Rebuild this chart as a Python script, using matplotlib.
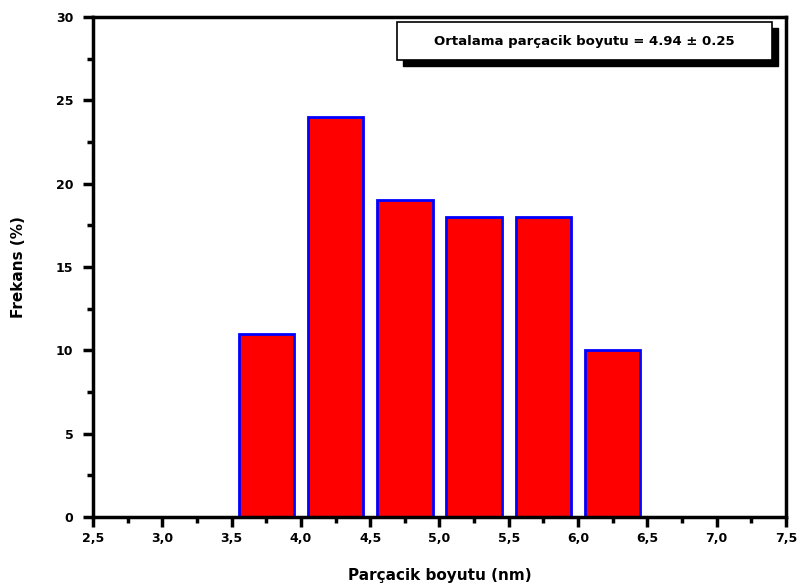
import numpy as np
import matplotlib.pyplot as plt
from matplotlib.patches import Rectangle
from matplotlib.ticker import MultipleLocator, FuncFormatter

# histogram data (bin centers in nm, frequency in %)
bin_centers = [3.75, 4.25, 4.75, 5.25, 5.75, 6.25]
frekans = [11, 24, 19, 18, 18, 10]
bin_width = 0.4

plt.rcParams['font.family'] = ['DejaVu Sans']
plt.rcParams['font.weight'] = 'bold'

fig = plt.figure(figsize=(7.99, 5.87), dpi=100)
ax = fig.add_axes([0.1164, 0.1193, 0.8673, 0.8517])

ax.bar(bin_centers, frekans, width=bin_width, color='#ff0000',
       edgecolor='#0000ff', linewidth=2, zorder=2)

ax.set_xlim(2.5, 7.5)
ax.set_ylim(0, 30)
ax.xaxis.set_major_locator(MultipleLocator(0.5))
ax.xaxis.set_minor_locator(MultipleLocator(0.25))
ax.yaxis.set_major_locator(MultipleLocator(5))
ax.yaxis.set_minor_locator(MultipleLocator(2.5))
ax.xaxis.set_major_formatter(FuncFormatter(lambda v, p: ('%.1f' % v).replace('.', ',')))
ax.yaxis.set_major_formatter(FuncFormatter(lambda v, p: '%d' % v))

for s in ax.spines.values():
    s.set_linewidth(2.5)
ax.tick_params(which='major', direction='out', length=7, width=2.5, labelsize=9)
ax.tick_params(axis='y', which='major', pad=7)
ax.tick_params(which='minor', direction='out', length=4, width=2.5)
for lab in ax.get_xticklabels() + ax.get_yticklabels():
    lab.set_fontweight('bold')

ax.set_xlabel('Parçacik boyutu (nm)', fontsize=11, fontweight='bold', labelpad=17)
ax.set_ylabel('Frekans (%)', fontsize=11, fontweight='bold', labelpad=22)

# annotation box with drop shadow
bx, by, bw, bh = 0.4387, 0.914, 0.5413, 0.076
dx, dy = 0.009, -0.012
ax.add_patch(Rectangle((bx + dx, by + dy), bw, bh, transform=ax.transAxes,
                       facecolor='black', edgecolor='black', zorder=5, clip_on=False))
ax.add_patch(Rectangle((bx, by), bw, bh, transform=ax.transAxes,
                       facecolor='white', edgecolor='black', linewidth=1.2, zorder=6, clip_on=False))
ax.text(bx + bw / 2, by + bh / 2, 'Ortalama parçacik boyutu = 4.94 ± 0.25',
        transform=ax.transAxes, ha='center', va='center', fontsize=9.5,
        fontweight='bold', zorder=7)

fig.savefig('out.png', dpi=100)
